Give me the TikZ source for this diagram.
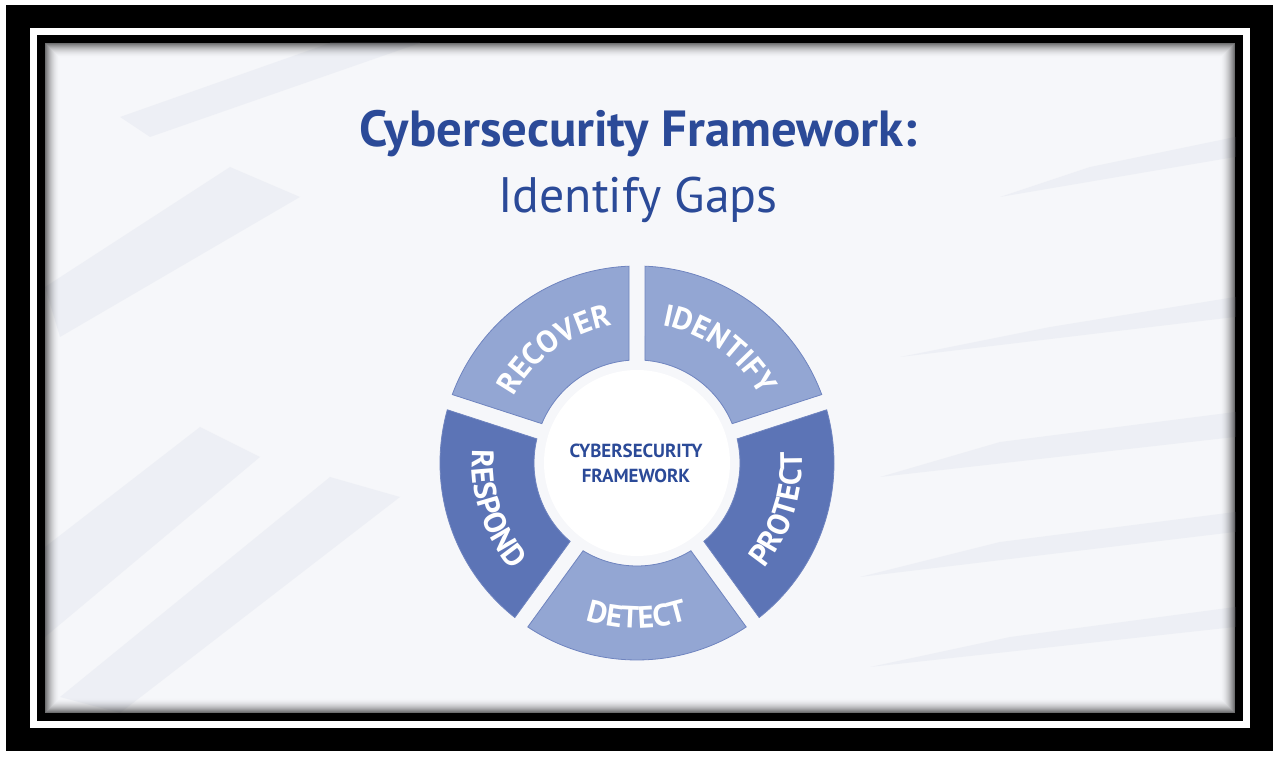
\documentclass[tikz,border=0pt]{standalone}
\usepackage{fontspec}
\setmainfont{PT Sans}
\usetikzlibrary{decorations.text,calc}
\definecolor{titleblue}{HTML}{2B4A98}
\definecolor{segLight}{HTML}{93A6D3}
\definecolor{segDark}{HTML}{5C74B6}
\definecolor{segEdge}{HTML}{6F84BF}
\definecolor{ringblue}{HTML}{C3CDE7}
\definecolor{bgbase}{HTML}{F6F7FA}
\definecolor{facet}{HTML}{E8EBF2}
\pgfdeclareradialshading{ringshade}{\pgfpoint{0bp}{0bp}}{color(0bp)=(white); color(38bp)=(white); color(45bp)=(ringblue); color(48bp)=(ringblue!70); color(50bp)=(white)}
\newcommand{\lblfont}{\fontsize{31}{31}\selectfont\bfseries\color{white}}
\tikzset{
  seg/.style={draw=segEdge, line width=0.8bp},
  facetshape/.style={fill=facet, opacity=0.6},
  ttl/.style={anchor=base, text=titleblue},
}
\begin{document}
\begin{tikzpicture}[x=1bp,y=1bp]
\useasboundingbox (0,0) rectangle (1280,757);
% frame
\fill[white] (0,0) rectangle (1280,757);
\fill[black] (6,6) rectangle (1273,752);
\fill[white] (30,29) rectangle (1250,729);
\fill[black] (37,36) rectangle (1243,722);
\fill[bgbase] (45,44) rectangle (1235,714);
% faint facets
\begin{scope}
\clip (45,44) rectangle (1235,714);
\fill[facetshape] (45,120) -- (260,300) -- (200,330) -- (45,210) -- cycle;
\fill[facetshape] (120,44) -- (400,260) -- (330,280) -- (60,60) -- cycle;
\fill[facetshape] (60,420) -- (300,560) -- (230,590) -- (45,470) -- cycle;
\fill[facetshape] (150,620) -- (420,714) -- (330,714) -- (120,640) -- cycle;
\fill[facetshape] (880,280) -- (1235,320) -- (1235,345) -- (1000,315) -- cycle;
\fill[facetshape] (860,180) -- (1235,225) -- (1235,245) -- (1000,215) -- cycle;
\fill[facetshape] (870,90) -- (1235,130) -- (1235,150) -- (1010,120) -- cycle;
\fill[facetshape] (900,400) -- (1235,440) -- (1235,460) -- (1050,430) -- cycle;
\fill[facetshape] (1000,560) -- (1235,600) -- (1235,620) -- (1090,590) -- cycle;
\end{scope}
% inner shadow
\foreach \i in {0,...,14}{
  \pgfmathsetmacro\op{0.55*(1-\i/15)^2}
  \draw[black, opacity=\op, line width=1bp] ({45.5+\i},{44.5+\i}) rectangle ({1234.5-\i},{713.5-\i});
}
% title
\node[ttl, font=\fontsize{51}{51}\selectfont\bfseries] (t1) at (638,610) {Cybersecurity Framework:};
\node[ttl, font=\fontsize{50}{50}\selectfont] (t2) at (638,544) {Identify Gaps};
% wheel
\coordinate (C) at (637,294);
\foreach \ang/\col in {54/segLight, -18/segDark, -90/segLight, 198/segDark, 126/segLight}{
  \pgfmathsetmacro\aA{\ang-36+2.33}
  \pgfmathsetmacro\aB{\ang+36-2.33}
  \pgfmathsetmacro\bA{\ang-36+4.45}
  \pgfmathsetmacro\bB{\ang+36-4.45}
  \draw[seg, fill=\col] ([shift={(C)}]\aA:197) arc[start angle=\aA, end angle=\aB, radius=197]
     -- ([shift={(C)}]\bB:103) arc[start angle=\bB, end angle=\bA, radius=103] -- cycle;
}
% labels
\path[decorate, decoration={text along path, text align=center, text={|\lblfont|RECOVER}}]
  ([shift={(C)}]162:140) arc[start angle=162, end angle=90, radius=140];
\path[decorate, decoration={text along path, text align=center, text={|\lblfont|IDENTIFY}}]
  ([shift={(C)}]90:140) arc[start angle=90, end angle=18, radius=140];
\path[decorate, decoration={text along path, text align=center, text={|\lblfont|PROTECT}}]
  ([shift={(C)}]-54:165) arc[start angle=-54, end angle=18, radius=165];
\path[decorate, decoration={text along path, text align=center, text={|\lblfont|DETECT}}]
  ([shift={(C)}]-126:165) arc[start angle=-126, end angle=-54, radius=165];
\path[decorate, decoration={text along path, text align=center, text={|\lblfont|RESPOND}}]
  ([shift={(C)}]162:165) arc[start angle=162, end angle=234, radius=165];
% core
\fill[white] (C) circle[radius=93];
\shade[shading=ringshade] (C) circle[radius=90];
\draw[white, line width=2bp] (C) circle[radius=90];
\node[ttl, font=\fontsize{19}{19}\selectfont\bfseries] (c1) at (636,299) {CYBERSECURITY};
\node[ttl, font=\fontsize{19}{19}\selectfont\bfseries] (c2) at (636,274) {FRAMEWORK};
\end{tikzpicture}
\end{document}
